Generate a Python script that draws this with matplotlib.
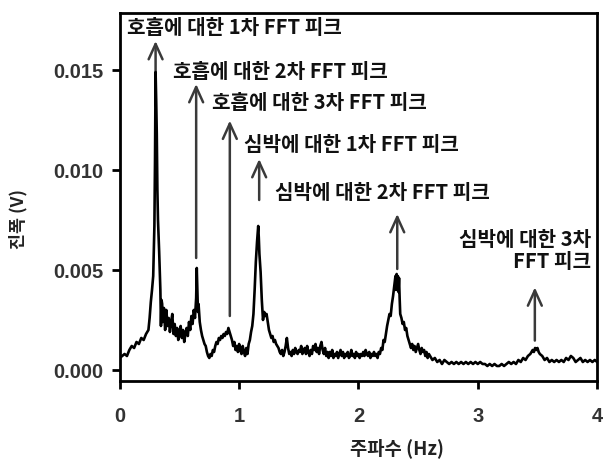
import matplotlib
matplotlib.use("Agg")
import matplotlib.pyplot as plt

plt.rcParams['font.family'] = ['Noto Sans CJK KR', 'DejaVu Sans']

# FFT amplitude spectrum (Hz, V)
freq = [
    0.00, 0.02, 0.04, 0.06, 0.08, 0.10, 0.12, 0.14, 0.16, 0.18, 0.20, 0.22, 0.24,
    0.25, 0.26, 0.27, 0.28, 0.29, 0.295, 0.30, 0.305, 0.31, 0.315, 0.32, 0.33, 0.34,
    0.345, 0.35, 0.355, 0.36, 0.37, 0.38, 0.39, 0.40, 0.41, 0.42, 0.43, 0.44, 0.45,
    0.46, 0.47, 0.48, 0.49, 0.50, 0.51, 0.52, 0.53, 0.54, 0.55, 0.56, 0.57, 0.58,
    0.59, 0.60, 0.61, 0.62, 0.63, 0.64, 0.645, 0.65, 0.655, 0.66, 0.67, 0.68, 0.69,
    0.70, 0.71, 0.72, 0.73, 0.74, 0.75, 0.76, 0.77, 0.78, 0.79, 0.80, 0.81, 0.82,
    0.83, 0.84, 0.85, 0.86, 0.87, 0.88, 0.89, 0.90, 0.91, 0.92, 0.93, 0.94, 0.95,
    0.96, 0.97, 0.98, 0.99, 1.00, 1.01, 1.02, 1.03, 1.04, 1.05, 1.06, 1.07, 1.08,
    1.09, 1.10, 1.11, 1.12, 1.13, 1.14, 1.15, 1.155, 1.16, 1.165, 1.17, 1.18, 1.19,
    1.20, 1.21, 1.22, 1.23, 1.24, 1.25, 1.26, 1.27, 1.28, 1.29, 1.30, 1.31, 1.32,
    1.33, 1.34, 1.35, 1.36, 1.37, 1.38, 1.39, 1.40, 1.41, 1.42, 1.43, 1.44, 1.45,
    1.46, 1.47, 1.48, 1.49, 1.50, 1.51, 1.52, 1.53, 1.54, 1.55, 1.56, 1.57, 1.58,
    1.59, 1.60, 1.61, 1.62, 1.63, 1.64, 1.65, 1.66, 1.67, 1.68, 1.69, 1.70, 1.71,
    1.72, 1.73, 1.74, 1.75, 1.76, 1.77, 1.78, 1.79, 1.80, 1.81, 1.82, 1.83, 1.84,
    1.85, 1.86, 1.87, 1.88, 1.89, 1.90, 1.91, 1.92, 1.93, 1.94, 1.95, 1.96, 1.97,
    1.98, 1.99, 2.00, 2.01, 2.02, 2.03, 2.04, 2.05, 2.06, 2.07, 2.08, 2.09, 2.10,
    2.11, 2.12, 2.13, 2.14, 2.15, 2.16, 2.17, 2.18, 2.19, 2.20, 2.21, 2.22, 2.23,
    2.24, 2.25, 2.26, 2.27, 2.28, 2.29, 2.30, 2.31, 2.315, 2.32, 2.325, 2.33, 2.335,
    2.34, 2.345, 2.35, 2.36, 2.37, 2.38, 2.39, 2.40, 2.41, 2.42, 2.43, 2.44, 2.45,
    2.46, 2.47, 2.48, 2.49, 2.50, 2.51, 2.52, 2.53, 2.54, 2.55, 2.56, 2.57, 2.58,
    2.59, 2.60, 2.62, 2.64, 2.66, 2.68, 2.70, 2.72, 2.74, 2.76, 2.78, 2.80, 2.82,
    2.84, 2.86, 2.88, 2.90, 2.92, 2.94, 2.96, 2.98, 3.00, 3.02, 3.04, 3.06, 3.08,
    3.10, 3.12, 3.14, 3.16, 3.18, 3.20, 3.22, 3.24, 3.26, 3.28, 3.30, 3.32, 3.34,
    3.36, 3.38, 3.40, 3.42, 3.44, 3.46, 3.47, 3.48, 3.49, 3.50, 3.51, 3.52, 3.54,
    3.56, 3.58, 3.60, 3.62, 3.64, 3.66, 3.68, 3.70, 3.72, 3.74, 3.76, 3.78, 3.80,
    3.82, 3.84, 3.86, 3.88, 3.90, 3.92, 3.94, 3.96, 3.98, 4.00,
]
amplitude = [
    0.0006, 0.0007, 0.0008, 0.0007, 0.0010, 0.0012, 0.0011, 0.0014, 0.0013, 0.0016, 0.0015, 0.0018, 0.0020,
    0.0026, 0.0034, 0.0040, 0.0047, 0.0072, 0.0104, 0.0149, 0.0135, 0.0118, 0.0090, 0.0075, 0.0059, 0.0040,
    0.0022, 0.0035, 0.0033, 0.0024, 0.0031, 0.0020, 0.0030, 0.0022, 0.0026, 0.0019, 0.0024, 0.0028, 0.0018,
    0.0023, 0.0017, 0.0021, 0.0015, 0.0019, 0.0022, 0.0016, 0.0020, 0.0014, 0.0018, 0.0021, 0.0017, 0.0024,
    0.0020, 0.0027, 0.0023, 0.0030, 0.0026, 0.0036, 0.0051, 0.0040, 0.0029, 0.0033, 0.0024, 0.0020, 0.0017,
    0.0015, 0.0013, 0.0012, 0.0009, 0.0007, 0.0006, 0.0008, 0.0007, 0.0010, 0.0009, 0.0012, 0.0014, 0.0013,
    0.0016, 0.0015, 0.0017, 0.0016, 0.0018, 0.0017, 0.0019, 0.0018, 0.0021, 0.0019, 0.0017, 0.0015, 0.0012,
    0.0014, 0.0010, 0.0012, 0.0009, 0.0013, 0.0010, 0.0008, 0.0012, 0.0009, 0.0007, 0.0011, 0.0008, 0.0013,
    0.0015, 0.0019, 0.0022, 0.0028, 0.0040, 0.0054, 0.0064, 0.0068, 0.0072, 0.0066, 0.0058, 0.0049, 0.0035,
    0.0025, 0.0029, 0.0027, 0.0028, 0.0024, 0.0020, 0.0018, 0.0016, 0.0017, 0.0014, 0.0015, 0.0013, 0.0012,
    0.0011, 0.0009, 0.0008, 0.0010, 0.0007, 0.0009, 0.0012, 0.0016, 0.0011, 0.0008, 0.0009, 0.0007, 0.0010,
    0.0008, 0.0011, 0.0009, 0.0008, 0.0010, 0.0009, 0.0012, 0.0008, 0.0010, 0.0011, 0.0008, 0.0012, 0.0009,
    0.0007, 0.0010, 0.0008, 0.0012, 0.0010, 0.0013, 0.0009, 0.0011, 0.0008, 0.0012, 0.0014, 0.0010, 0.0008,
    0.0011, 0.0007, 0.0009, 0.0006, 0.0009, 0.0007, 0.0010, 0.0006, 0.0008, 0.0007, 0.0009, 0.0006, 0.0008,
    0.0010, 0.0007, 0.0009, 0.0006, 0.0008, 0.0007, 0.0009, 0.0006, 0.0007, 0.0010, 0.0007, 0.0008, 0.0006,
    0.0009, 0.0007, 0.0008, 0.0006, 0.0008, 0.0007, 0.0009, 0.0007, 0.0010, 0.0008, 0.0007, 0.0009, 0.0006,
    0.0008, 0.0007, 0.0009, 0.0007, 0.0008, 0.0006, 0.0009, 0.0008, 0.0011, 0.0010, 0.0015, 0.0014, 0.0018,
    0.0022, 0.0025, 0.0028, 0.0027, 0.0033, 0.0037, 0.0042, 0.0047, 0.0040, 0.0048, 0.0041, 0.0047, 0.0039,
    0.0046, 0.0036, 0.0028, 0.0026, 0.0023, 0.0024, 0.0020, 0.0021, 0.0017, 0.0015, 0.0013, 0.0011, 0.0013,
    0.0010, 0.0012, 0.0009, 0.0011, 0.0013, 0.0010, 0.0008, 0.0011, 0.0009, 0.0010, 0.0007, 0.0009, 0.0006,
    0.0008, 0.0007, 0.0005, 0.0006, 0.0004, 0.0005, 0.0003, 0.0005, 0.0004, 0.0003, 0.0004, 0.0003, 0.0004,
    0.0003, 0.0004, 0.0003, 0.0004, 0.0003, 0.0004, 0.0003, 0.0004, 0.0003, 0.0004, 0.0003, 0.0003, 0.0002,
    0.0003, 0.0002, 0.0003, 0.0002, 0.0002, 0.0003, 0.0002, 0.0003, 0.0004, 0.0003, 0.0004, 0.0003, 0.0005,
    0.0004, 0.0006, 0.0005, 0.0007, 0.0008, 0.0010, 0.0009, 0.0011, 0.0010, 0.0011, 0.0009, 0.0008, 0.0007,
    0.0005, 0.0006, 0.0004, 0.0005, 0.0004, 0.0005, 0.0004, 0.0005, 0.0004, 0.0006, 0.0005, 0.0007, 0.0006,
    0.0004, 0.0005, 0.0006, 0.0004, 0.0005, 0.0004, 0.0005, 0.0004, 0.0005, 0.0004,
]

# Peak annotations: label, arrow x, arrow tail y, arrow tip y
peak_labels = [
    "호흡에 대한 1차 FFT 피크",
    "호흡에 대한 2차 FFT 피크",
    "호흡에 대한 3차 FFT 피크",
    "심박에 대한 1차 FFT 피크",
    "심박에 대한 2차 FFT 피크",
]
arrow_x = [0.30, 0.64, 0.922, 1.168, 2.325, 3.478]
arrow_tail = [0.0135, 0.0056, 0.0027, 0.0085, 0.00505, 0.00147]
arrow_tip = [0.01645, 0.0143, 0.01247, 0.01055, 0.0078, 0.00413]
label_x = [0.059, 0.444, 0.771, 1.04, 1.30]
label_y = [0.01715, 0.01495, 0.0134, 0.0113, 0.0089]
last_label = ["심박에 대한 3차", "FFT 피크"]

xticks = [0, 1, 2, 3, 4]
yticks = [0.000, 0.005, 0.010, 0.015]

fig = plt.figure(figsize=(6.05, 4.6), dpi=100)
ax = fig.add_axes([0.198, 0.1696, 0.789, 0.8])

ax.plot(freq, amplitude, color="black", lw=1.9, zorder=4)

arrow_color = "#3a3a3a"
for x, y0, y1 in zip(arrow_x, arrow_tail, arrow_tip):
    ax.annotate("", xy=(x, y1), xytext=(x, y0),
                arrowprops=dict(arrowstyle="->,head_length=0.55,head_width=0.25",
                                color=arrow_color, lw=1.8, mutation_scale=20,
                                shrinkA=0, shrinkB=0), zorder=3)

label_font = dict(fontsize=14.5, fontweight="bold", color="#111111",
                  family=["Noto Sans CJK KR", "DejaVu Sans"])
for text, x, y in zip(peak_labels, label_x, label_y):
    ax.text(x, y, text, ha="left", va="center", **label_font)
ax.text(3.95, 0.00655, last_label[0], ha="right", va="center", **label_font)
ax.text(3.95, 0.00545, last_label[1], ha="right", va="center", **label_font)

ax.set_xlim(0, 4)
ax.set_ylim(-0.00055, 0.01785)
ax.set_xticks(xticks)
ax.set_xticklabels([str(t) for t in xticks])
ax.set_yticks(yticks)
ax.set_yticklabels([f"{t:.3f}" for t in yticks])

for lab in ax.get_xticklabels() + ax.get_yticklabels():
    lab.set_fontfamily("Liberation Sans")
    lab.set_fontweight("bold")
    lab.set_fontsize(14.5)
    lab.set_color("#333333")

ax.tick_params(direction="out", length=6, width=2, color="black")
ax.tick_params(axis="y", pad=6)
ax.tick_params(axis="x", pad=12)
for sp in ax.spines.values():
    sp.set_linewidth(2)

ax.set_xlabel("주파수 (Hz)", fontsize=13.5, fontweight="bold", color="#222222")
ax.xaxis.set_label_coords(0.58, -0.152)
ax.set_ylabel("진폭 (V)", fontsize=12.5, fontweight="bold", color="#222222")
ax.yaxis.set_label_coords(-0.193, 0.444)

fig.savefig("out.png", dpi=100)
